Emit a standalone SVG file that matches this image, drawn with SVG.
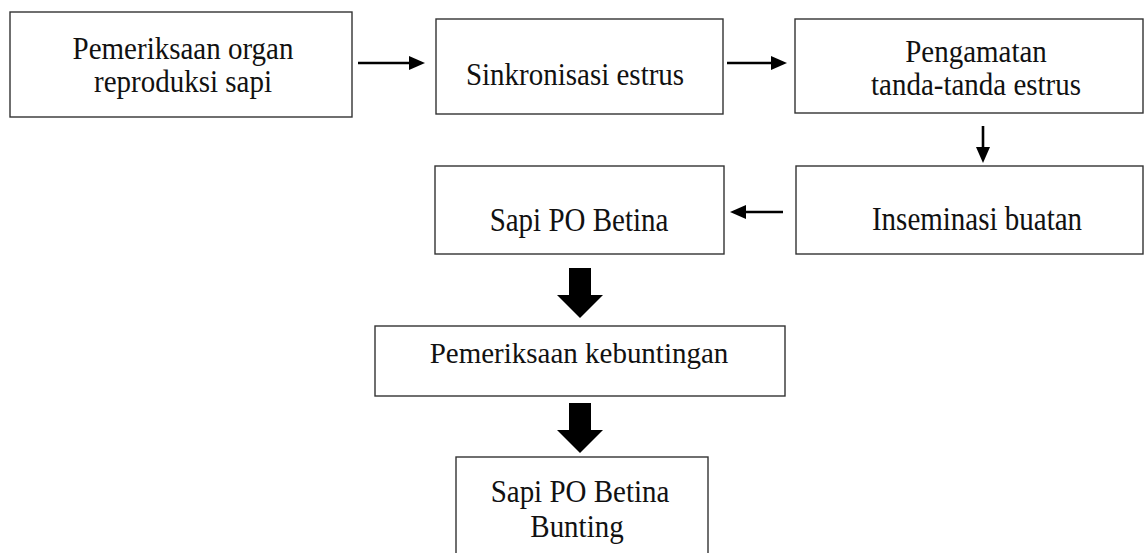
<svg xmlns="http://www.w3.org/2000/svg" width="1145" height="553" viewBox="0 0 1145 553">
<style>
.box{fill:#fff;stroke:#333;stroke-width:1.4}
.t{font-family:"Liberation Serif","Times New Roman",serif;font-size:29px;fill:#111;text-anchor:middle}
.ln{stroke:#000;stroke-width:2.6;fill:none}
.thick{fill:#000}
</style>
<defs>
<marker id="ah" viewBox="0 0 16 14" markerWidth="16" markerHeight="14" refX="2" refY="7" orient="auto" markerUnits="userSpaceOnUse">
<path d="M0,0 L16,7 L0,14 z" fill="#000"/>
</marker>
</defs>
<rect width="1145" height="553" fill="#fff"/>
<g id="connectors">
<line class="ln" x1="358" y1="63" x2="411" y2="63" marker-end="url(#ah)"/>
<line class="ln" x1="727" y1="63" x2="773" y2="63" marker-end="url(#ah)"/>
<line class="ln" x1="983" y1="126" x2="983" y2="149" marker-end="url(#ah)"/>
<line class="ln" x1="783" y1="212" x2="744" y2="212" marker-end="url(#ah)"/>
<polygon class="thick" points="569,268 591,268 591,295 603,295 580,318 557,295 569,295"/>
<polygon class="thick" points="569,403 591,403 591,430 603,430 580,453 557,430 569,430"/>
</g>
<g id="n1">
<rect class="box" x="10" y="12" width="342" height="105"/>
<text class="t" transform="translate(183,59) scale(1,1.1)">Pemeriksaan organ</text>
<text class="t" transform="translate(183,92) scale(1,1.1)">reproduksi sapi</text>
</g>
<g id="n2">
<rect class="box" x="436" y="19" width="287" height="95"/>
<text class="t" transform="translate(575,85) scale(1,1.08)">Sinkronisasi estrus</text>
</g>
<g id="n3">
<rect class="box" x="795" y="19" width="348" height="94"/>
<text class="t" transform="translate(976,62) scale(1,1.12)">Pengamatan</text>
<text class="t" transform="translate(976,95) scale(1,1.12)">tanda-tanda estrus</text>
</g>
<g id="n4">
<rect class="box" x="435" y="166" width="289" height="88"/>
<text class="t" transform="translate(579,231) scale(1,1.18)">Sapi PO Betina</text>
</g>
<g id="n5">
<rect class="box" x="796" y="166" width="347" height="88"/>
<text class="t" transform="translate(977,230) scale(1,1.18)">Inseminasi buatan</text>
</g>
<g id="n6">
<rect class="box" x="375" y="326" width="410" height="70"/>
<text class="t" transform="translate(579,363) scale(1,1.05)">Pemeriksaan kebuntingan</text>
</g>
<g id="n7">
<rect class="box" x="456" y="457" width="252" height="110"/>
<text class="t" transform="translate(580,502) scale(1,1.12)">Sapi PO Betina</text>
<text class="t" transform="translate(577,537) scale(1,1.12)">Bunting</text>
</g>
</svg>
